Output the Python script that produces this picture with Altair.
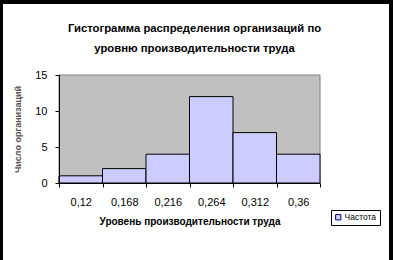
import altair as alt
import pandas as pd

labels = ["0,12", "0,168", "0,216", "0,264", "0,312", "0,36"]
counts = [1, 2, 4, 12, 7, 4]
series = ["Частота"] * len(labels)

df = pd.DataFrame({"label": labels, "count": counts, "series": series})

W, H = 261, 108
PL, PT = 59, 75

one = alt.Data(values=[{}])

# white chart area inside the black frame (frame = black background)
paper = alt.Chart(one).mark_rect(fill="white").encode(
    x=alt.value(3 - PL), x2=alt.value(389 - PL), y=alt.value(4 - PT), y2=alt.value(260 - PT)
)
# grey plot area
plotbg = alt.Chart(one).mark_rect(fill="#C0C0C0", stroke="#808080", strokeWidth=1).encode(
    x=alt.value(0), x2=alt.value(W), y=alt.value(0), y2=alt.value(H)
)

bars = alt.Chart(df).mark_bar(stroke="black", strokeWidth=1).encode(
    x=alt.X("label:O", sort=labels,
            scale=alt.Scale(paddingInner=0, paddingOuter=0),
            axis=alt.Axis(title="Уровень производительности труда", labelAngle=0,
                          tickBand="extent", tickSize=4, labelPadding=9, zindex=2,
                          labelFontSize=11, titleFontSize=10, titleFontWeight="bold",
                          titlePadding=9, domainColor="black", tickColor="black",
                          labelColor="black", titleColor="black")),
    y=alt.Y("count:Q", scale=alt.Scale(domain=[0, 15], nice=False),
            axis=alt.Axis(title="Число организаций", values=[0, 5, 10, 15], grid=False,
                          tickSize=4, labelPadding=8, labelFontSize=11, zindex=2,
                          titleFontSize=9, titleFontWeight="bold", titleColor="#555",
                          titlePadding=12, domainColor="black", tickColor="black",
                          labelColor="black")),
    color=alt.Color("series:N", scale=alt.Scale(range=["#CCCCFF"]),
                    legend=alt.Legend(title=None, orient="none", legendX=272, legendY=135,
                                      strokeColor="black", fillColor="white", padding=3,
                                      symbolType="square", symbolSize=28, zindex=2,
                                      symbolStrokeColor="#000080", symbolStrokeWidth=1,
                                      labelFontSize=8.5, labelOffset=2, labelColor="black")),
)

chart = alt.layer(paper, plotbg, bars).properties(
    width=W, height=H,
    title=alt.TitleParams(
        ["Гистограмма распределения организаций по", "уровню производительности труда"],
        font="Liberation Sans", fontSize=11.3, fontWeight="bold", color="black",
        lineHeight=20, offset=0, dy=50, dx=5, anchor="middle", zindex=2),
    autosize=alt.AutoSizeParams(type="none"),
    padding={"left": PL, "top": PT, "right": 393 - PL - W, "bottom": 260 - PT - H},
    background="black",
).configure(font="Liberation Sans").configure_view(stroke=None)

chart.save("out.html", embed_options={"renderer": "svg", "actions": False})
